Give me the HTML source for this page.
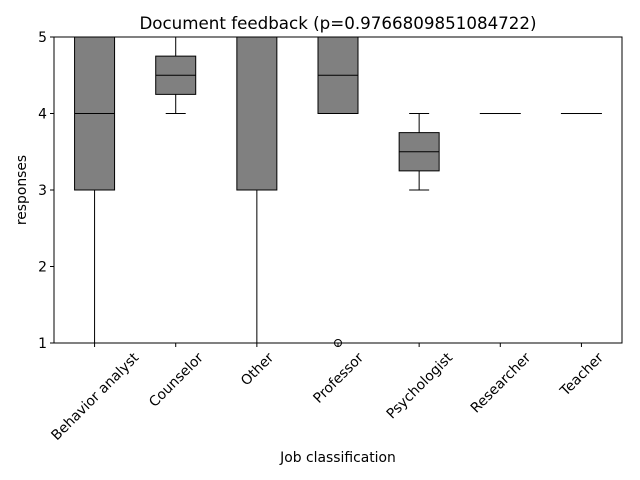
<!DOCTYPE html>
<html><head><meta charset="utf-8"><style>body{margin:0;background:#fff}svg{display:block;font-family:"DejaVu Sans","Liberation Sans",sans-serif}</style></head>
<body>
<svg id="chart" width="640" height="480" viewBox="0 0 640 480"></svg>
<script>
const categories=["Behavior analyst","Counselor","Other","Professor","Psychologist","Researcher","Teacher"];
const whiskerLow=[1,4,1,4,3,4,4];
const q1=[3,4.25,3,4,3.25,4,4];
const medians=[4,4.5,5,4.5,3.5,4,4];
const q3=[5,4.75,5,5,3.75,4,4];
const whiskerHigh=[5,5,5,5,4,4,4];
const outliers=[[],[],[],[1],[],[],[]];
const yTicks=[1,2,3,4,5];
const L=54,R=622,T=37,B=343,yMin=1,yMax=5;
const NS="http://www.w3.org/2000/svg";
const svg=document.getElementById('chart');
const y=v=>B-(v-yMin)/(yMax-yMin)*(B-T);
const step=(R-L)/categories.length;
const x=i=>L+step*(i+0.5);
function el(t,a,p){const e=document.createElementNS(NS,t);for(const k in a)e.setAttribute(k,a[k]);(p||svg).appendChild(e);return e;}
const bw=40;
const FS=13.9;
categories.forEach((c,i)=>{
  const g=el('g',{});
  
  
  const cx=x(i);
  el('line',{x1:cx,x2:cx,y1:y(whiskerLow[i]),y2:y(q1[i]),stroke:'#000'},g);
  el('line',{x1:cx,x2:cx,y1:y(q3[i]),y2:y(whiskerHigh[i]),stroke:'#000'},g);
  el('line',{x1:cx-bw/4,x2:cx+bw/4,y1:y(whiskerLow[i]),y2:y(whiskerLow[i]),stroke:'#000'},g);
  el('line',{x1:cx-bw/4,x2:cx+bw/4,y1:y(whiskerHigh[i]),y2:y(whiskerHigh[i]),stroke:'#000'},g);
  el('rect',{x:cx-bw/2,y:y(q3[i]),width:bw,height:Math.max(0.01,y(q1[i])-y(q3[i])),fill:'#808080',stroke:'#000'},g);
  el('line',{x1:cx-bw/2,x2:cx+bw/2,y1:y(medians[i]),y2:y(medians[i]),stroke:'#000'},g);
  outliers[i].forEach(o=>{el('circle',{cx:cx,cy:y(o),r:3.5,fill:'none',stroke:'#000'},g);});
  const t=el('text',{'text-anchor':'middle','font-size':FS,fill:'#000'});
  t.textContent=c;
  
  
  const w=t.getComputedTextLength();
  const h=(w+FS)*Math.SQRT1_2;
  const cy=350+h/2;
  t.setAttribute('transform',`translate(${cx},${cy}) rotate(-45) translate(0,5)`);
  el('line',{x1:cx,x2:cx,y1:B,y2:B+4,stroke:'#000'});
});
yTicks.forEach(v=>{
  el('line',{x1:L-4,x2:L,y1:y(v),y2:y(v),stroke:'#000'});
  const t=el('text',{x:L-7,y:y(v)+5,'text-anchor':'end','font-size':FS});
  t.textContent=v;
  
  
});
const f=el('rect',{x:L,y:T,width:R-L,height:B-T,fill:'none',stroke:'#000'});


const tt=el('text',{x:(L+R)/2,y:29,'text-anchor':'middle','font-size':16.7});
tt.textContent='Document feedback (p=0.9766809851084722)';


const xt=el('text',{x:(L+R)/2,y:462,'text-anchor':'middle','font-size':FS});
xt.textContent='Job classification';


const yt=el('text',{transform:`translate(26,${(T+B)/2}) rotate(-90)`,'text-anchor':'middle','font-size':FS});
yt.textContent='responses';


</script>
</body></html>
